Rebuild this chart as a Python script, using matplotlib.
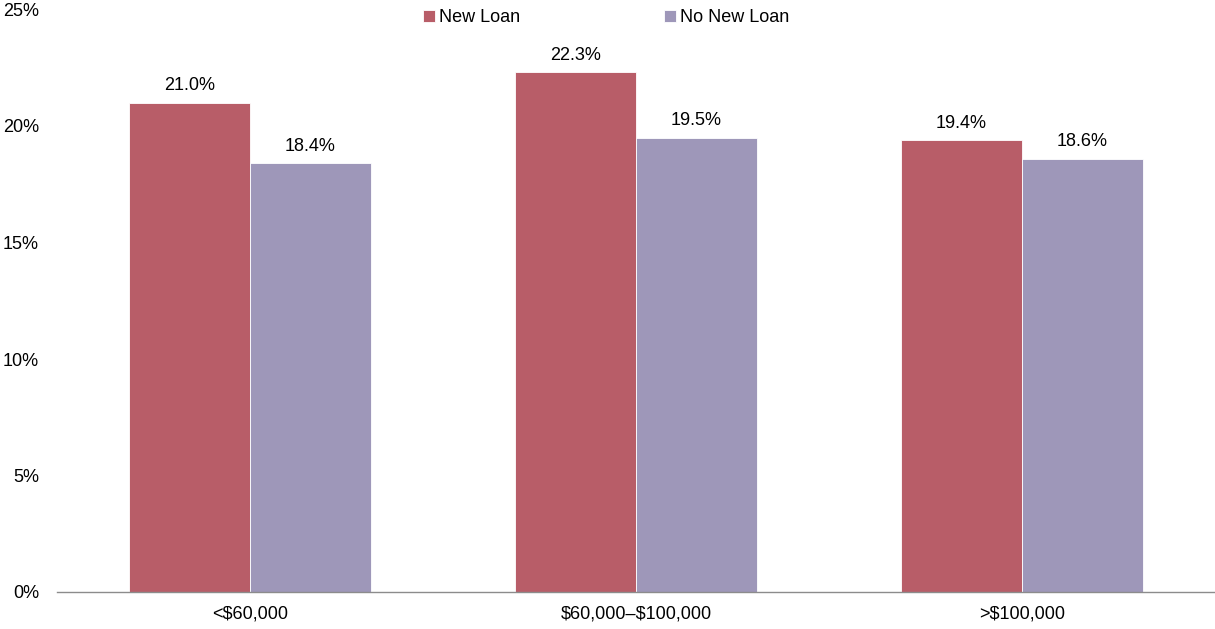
import matplotlib
matplotlib.use("Agg")
import matplotlib.pyplot as plt
import numpy as np

categories = ["<$60,000", "$60,000\u2013$100,000", ">$100,000"]
new_loan = [21.0, 22.3, 19.4]
no_new_loan = [18.4, 19.5, 18.6]
series_names = ["New Loan", "No New Loan"]
colors = ["#B85D68", "#9E97B9"]

plt.rcParams["font.family"] = ["Liberation Sans", "DejaVu Sans"]
plt.rcParams["font.size"] = 13

fig = plt.figure(figsize=(12.15, 6.29), dpi=100)
ax = fig.add_axes([57 / 1215, 37 / 629, 1 - 57 / 1215, (592 - 9.5) / 629])

x = np.arange(len(categories))
w = 0.313
b1 = ax.bar(x - w / 2, new_loan, w, color=colors[0], edgecolor="white", linewidth=0.6, label=series_names[0])
b2 = ax.bar(x + w / 2, no_new_loan, w, color=colors[1], edgecolor="white", linewidth=0.6, label=series_names[1])

for bars, vals in ((b1, new_loan), (b2, no_new_loan)):
    for r, v in zip(bars, vals):
        ax.annotate(f"{v:.1f}%", (r.get_x() + r.get_width() / 2, v), xytext=(0, 6),
                    textcoords="offset points", ha="center", va="bottom", fontsize=13)

ax.set_xlim(-0.5, 2.5)
ax.set_ylim(0, 25)
ax.set_yticks(np.arange(0, 26, 5))
ax.set_yticklabels([f"{t}%" for t in range(0, 26, 5)])
ax.set_xticks(x)
ax.set_xticklabels([c.replace("$", r"\$") for c in categories])
ax.tick_params(axis="both", length=0, labelsize=13, colors="black")
ax.tick_params(axis="y", pad=13)
ax.tick_params(axis="x", pad=10)
for s in ("top", "right", "left"):
    ax.spines[s].set_visible(False)
ax.spines["bottom"].set_color("#8C8C8C")
ax.spines["bottom"].set_linewidth(1.0)

fig.legend(loc="center", bbox_to_anchor=(606 / 1215, 1 - 17.5 / 629), ncol=2, frameon=False,
           handlelength=0.65, handleheight=0.65, handletextpad=0.2, columnspacing=8.0, fontsize=13)

fig.savefig("out.png", dpi=100)
